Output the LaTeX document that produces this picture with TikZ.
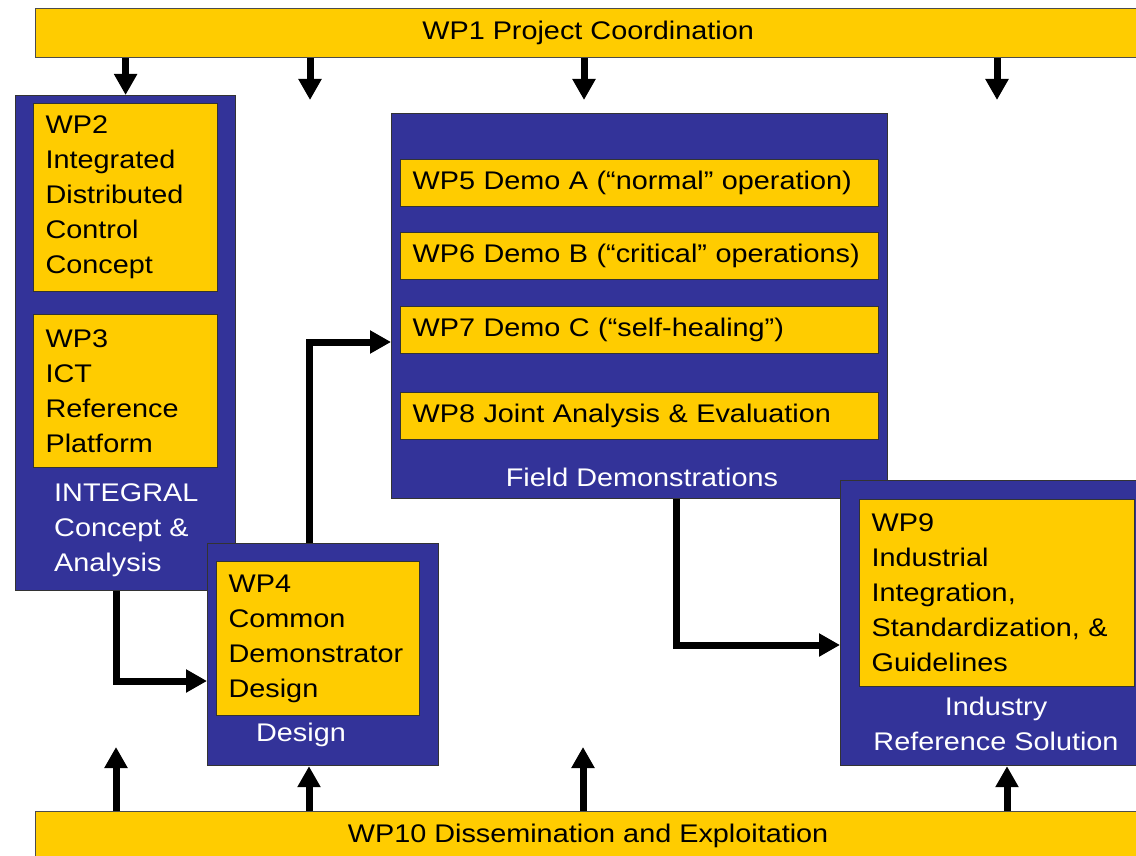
\documentclass[tikz,border=0pt]{standalone}
\usepackage{fontspec}
\setmainfont{Liberation Sans}[FakeStretch=1.13]
\usetikzlibrary{arrows.meta}
\definecolor{wpblue}{RGB}{51,51,153}
\definecolor{wpyellow}{RGB}{255,204,0}
\newcommand\wpfont{\fontsize{25.5}{35}\selectfont}

\begin{document}
\begin{tikzpicture}[
  x=1pt,
  y=-1pt,
  wp bar/.style={
    draw=black!70,
    fill=wpyellow,
    line width=1.2pt,
    anchor=north west,
    minimum width=1105pt,
    minimum height=49pt,
    font=\wpfont
  },
  wp group/.style={
    draw=black!80,
    fill=wpblue,
    line width=1.2pt,
    anchor=north west,
    inner sep=0pt
  },
  wp box/.style={
    draw=black!80,
    fill=wpyellow,
    line width=1.2pt,
    anchor=north west,
    inner xsep=12pt,
    inner ysep=0pt,
    align=left,
    font=\wpfont
  },
  wp label/.style={
    white,
    inner sep=0pt,
    font=\wpfont
  },
  wp flow/.style={
    draw,
    line width=7pt,
    -{Triangle[width=22pt,length=21pt]}
  },
]
\useasboundingbox (0,0) rectangle (1136,856);
\fill[white] (0,0) rectangle (1136,856);

\node[wp bar] (wp1) at (35,8) {WP1 Project Coordination};
\node[wp bar] (wp10) at (35,811) {WP10 Dissemination and Exploitation};

\node[wp group, minimum width=220pt, minimum height=495pt] (concept) at (15,95) {};
\node[wp group, minimum width=231pt, minimum height=222pt] (design) at (207,543) {};
\node[wp group, minimum width=496pt, minimum height=385pt] (field) at (391,113) {};
\node[wp group, minimum width=300pt, minimum height=285pt] (industry) at (840,480) {};

\node[wp box, text width=160pt, minimum height=188pt] (wp2) at (33,103) {WP2\\Integrated\\Distributed\\Control\\Concept};
\node[wp box, text width=160pt, minimum height=153pt] (wp3) at (33,314) {WP3\\ICT\\Reference\\Platform};
\node[wp box, text width=179pt, minimum height=154pt] (wp4) at (216,561) {WP4\\Common\\Demonstrator\\Design};
\node[wp box, text width=454pt, minimum height=47pt] (wp5) at (400,159) {WP5 Demo A (“normal” operation)};
\node[wp box, text width=454pt, minimum height=47pt] (wp6) at (400,232) {WP6 Demo B (“critical” operations)};
\node[wp box, text width=454pt, minimum height=47pt] (wp7) at (400,306) {WP7 Demo C (“self-healing”)};
\node[wp box, text width=454pt, minimum height=47pt] (wp8) at (400,392) {WP8 Joint Analysis \& Evaluation};
\node[wp box, text width=251pt, minimum height=187pt] (wp9) at (859,499) {WP9\\Industrial\\Integration,\\Standardization,~\&\\Guidelines};

\node[wp label, align=left, anchor=west] (concept label) at (54,530) {INTEGRAL\\Concept \&\\Analysis};
\node[wp label] (design label) at (301,735) {Design};
\node[wp label] (field label) at (642,477) {Field Demonstrations};
\node[wp label, align=center] (industry label) at (996,724) {Industry\\Reference Solution};

\coordinate (top2) at (310,100);
\coordinate (top3) at (584,100);
\coordinate (top4) at (997,100);
\coordinate (bot1) at (116,747);
\coordinate (bot2) at (309,765);
\coordinate (bot3) at (583,747);
\coordinate (bot4) at (1007,765);
\coordinate (bend1) at (116,681);
\coordinate (bend2) at (309,342);
\coordinate (bend3) at (676,645);

\draw[wp flow] (wp1.south -| concept.north) -- (concept.north);
\foreach \t in {top2,top3,top4}
  \draw[wp flow] (wp1.south -| \t) -- (\t);
\foreach \b in {bot1,bot3}
  \draw[wp flow] (wp10.north -| \b) -- (\b);
\draw[wp flow] (wp10.north -| bot2) -- (design.south -| bot2);
\draw[wp flow] (wp10.north -| bot4) -- (industry.south -| bot4);

\draw[wp flow] (concept.south -| bend1) |- (design.west |- bend1);
\draw[wp flow] (design.north -| bend2) |- (field.west |- bend2);
\draw[wp flow] (field.south -| bend3) |- (industry.west |- bend3);
\end{tikzpicture}
\end{document}
